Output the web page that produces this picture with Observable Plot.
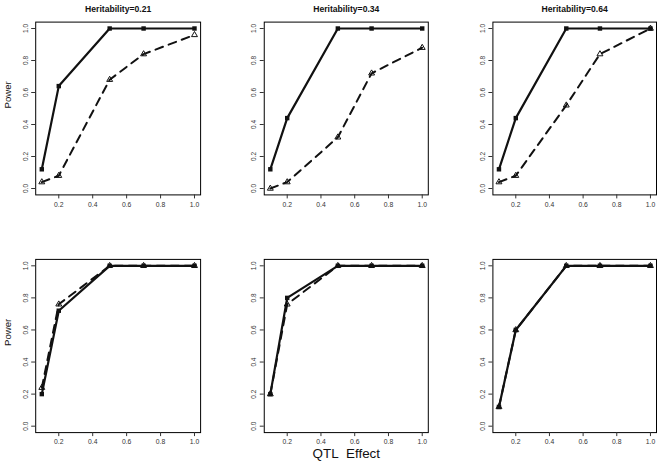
<!DOCTYPE html>
<html><head><meta charset="utf-8">
<script src="https://cdn.jsdelivr.net/npm/d3@7"></script>
<script src="https://cdn.jsdelivr.net/npm/@observablehq/plot@0.6"></script>
<style>
body{margin:0;background:#fff}
#chart{position:relative;width:659px;height:466px;background:#fff}
#chart svg{position:absolute}
</style>
</head><body><div id="chart"></div>
<script>
const qtlEffect = [0.1, 0.2, 0.5, 0.7, 1.0];
const xTicks = [0.2, 0.4, 0.6, 0.8, 1.0];
const yTicks = [0.0, 0.2, 0.4, 0.6, 0.8, 1.0];
const panelTitles = ["Heritability=0.21", "Heritability=0.34", "Heritability=0.64", "", "", ""];

const solidP1 = [0.12, 0.64, 1.00, 1.00, 1.00];
const dashedP1 = [0.04, 0.08, 0.68, 0.84, 0.96];
const solidP2 = [0.12, 0.44, 1.00, 1.00, 1.00];
const dashedP2 = [0.00, 0.04, 0.32, 0.72, 0.88];
const solidP3 = [0.12, 0.44, 1.00, 1.00, 1.00];
const dashedP3 = [0.04, 0.08, 0.52, 0.84, 1.00];
const solidP4 = [0.20, 0.72, 1.00, 1.00, 1.00];
const dashedP4 = [0.24, 0.76, 1.00, 1.00, 1.00];
const solidP5 = [0.20, 0.80, 1.00, 1.00, 1.00];
const dashedP5 = [0.20, 0.76, 1.00, 1.00, 1.00];
const solidP6 = [0.12, 0.60, 1.00, 1.00, 1.00];
const dashedP6 = [0.12, 0.60, 1.00, 1.00, 1.00];

const solidSeries = [solidP1, solidP2, solidP3, solidP4, solidP5, solidP6];
const dashedSeries = [dashedP1, dashedP2, dashedP3, dashedP4, dashedP5, dashedP6];

const cols = [
  {left: 0, width: 220, ml: 35.2, mr: 19.9},
  {left: 220, width: 220, ml: 43.75, mr: 12.2},
  {left: 440, width: 219, ml: 52.4, mr: 3}
];
const rows = [
  {top: 0, height: 233, mt: 21.6, mb: 38.6},
  {top: 233, height: 233, mt: 25.9, mb: 33.9}
];

const font = "'Liberation Sans', Arial, Helvetica, sans-serif";
const chart = document.getElementById("chart");

for (let i = 0; i < 6; i++) {
  const c = cols[i % 3], r = rows[Math.floor(i / 3)];
  const solid = qtlEffect.map((x, j) => ({x, y: solidSeries[i][j]}));
  const dashed = qtlEffect.map((x, j) => ({x, y: dashedSeries[i][j]}));
  const marks = [
    Plot.frame({stroke: "#000", strokeWidth: 1}),
    Plot.axisX({ticks: xTicks, tickFormat: d => d.toFixed(1), tickSize: 4, tickPadding: 3, label: null, fontSize: 6.8}),
    Plot.axisY({ticks: yTicks, tickFormat: d => d.toFixed(1), tickSize: 4, tickPadding: 4, tickRotate: -90, label: null, fontSize: 6.5}),
    Plot.line(dashed, {x: "x", y: "y", stroke: "#111", strokeWidth: 2, strokeDasharray: "8,6"}),
    Plot.line(solid, {x: "x", y: "y", stroke: "#111", strokeWidth: 2.2}),
    Plot.dot(dashed, {x: "x", y: "y", symbol: "triangle", r: 2.2, stroke: "#111", strokeWidth: 1, fill: "none"}),
    Plot.dot(solid, {x: "x", y: "y", symbol: "square", r: 2.5, fill: "#111", stroke: "none"})
  ];
  if (panelTitles[i]) {
    marks.push(Plot.text([panelTitles[i]], {frameAnchor: "top", dy: -16, text: d => d, fontWeight: "bold", fontSize: 8.6, fill: "#111"}));
  }
  if (i % 3 === 0) {
    marks.push(Plot.text(["Power"], {frameAnchor: "left", dx: -27.7, rotate: -90, text: d => d, fontSize: 9.6, fill: "#111"}));
  }
  if (i === 4) {
    marks.push(Plot.text(["QTL\u00a0\u00a0Effect"], {frameAnchor: "bottom", dy: 25, text: d => d, fontSize: 13.4, fill: "#111"}));
  }
  const svg = Plot.plot({
    width: c.width,
    height: r.height,
    marginLeft: c.ml,
    marginRight: c.mr,
    marginTop: r.mt,
    marginBottom: r.mb,
    x: {domain: [0.064, 1.036]},
    y: {domain: [-0.04, 1.04]},
    style: {fontFamily: font, fontSize: "7px", color: "#333", background: "transparent", overflow: "visible"},
    marks
  });
  svg.style.left = c.left + "px";
  svg.style.top = r.top + "px";
  chart.appendChild(svg);
}
</script>
</body></html>
